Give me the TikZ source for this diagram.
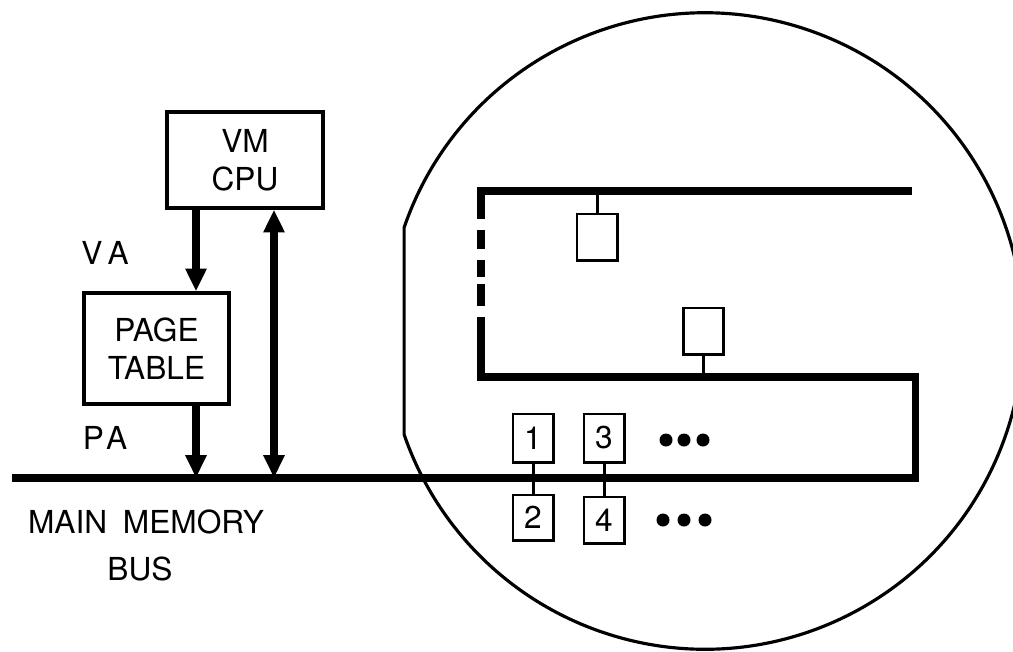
\documentclass[tikz,border=0pt]{standalone}
\usepackage{fontspec}
\setmainfont{TeX Gyre Heros}
\usetikzlibrary{arrows.meta}
\begin{document}
\begin{tikzpicture}[x=0.01cm,y=-0.01cm]
  \tikzset{bx/.style={draw,rectangle,line width=0.9pt,align=center,inner sep=0pt,font=\fontsize{9}{10.8}\selectfont},
    sm/.style={draw,rectangle,line width=0.85pt,minimum width=0.4cm,minimum height=0.46cm,inner sep=0pt,font=\fontsize{9}{11}\selectfont},
    lbl/.style={inner sep=0pt,font=\fontsize{9}{11}\selectfont},
    bus/.style={line width=2pt},
    arr/.style={line width=2pt,-{Triangle[width=5.7pt,length=6.5pt]}},
    dbl/.style={line width=2pt,{Triangle[width=5.7pt,length=6.5pt]}-{Triangle[width=5.7pt,length=6.5pt]}}}
  \useasboundingbox (0,0) rectangle (1013,651);
  \clip (0,0) rectangle (1013,651);
  % left part
  \node[bx,minimum width=1.56cm,minimum height=0.96cm] (cpu) at (245,160) {VM\\CPU};
  \node[bx,minimum width=1.45cm,minimum height=1.11cm] (pt) at (156.5,348.5) {PAGE\\TABLE};
  \node[lbl] (va) at (105,252.5) {V\,A};
  \node[lbl] (pa) at (105,437.5) {P\kern.6pt A};
  \node[lbl] (mm) at (146,521.5) {MAIN\enspace MEMORY};
  \node[lbl] (bl) at (140,568.5) {BUS};
  \coordinate (tap) at (196,478);
  \coordinate (tap2) at (274,478);
  \draw[arr] (cpu.south -| tap) -- (pt.north -| tap);
  \draw[arr] (pt.south -| tap) -- (tap);
  \draw[dbl] (cpu.south -| tap2) -- (tap2);
  % magnified view
  \draw[line width=0.9pt] (705,331) ++(161:3.18cm) arc[start angle=161,end angle=-161,radius=3.18cm] -- cycle;
  \coordinate (b0) at (12,478);
  \coordinate (b1c) at (915,478);
  \coordinate (m1c) at (915,377);
  \coordinate (m0) at (481,377);
  \coordinate (t0) at (481,191);
  \coordinate (t1) at (912,191);
  \draw[bus,line join=miter] (b0) -- (b1c) -- (m1c) -- (m0) -- (481,317);
  \draw[bus,line join=miter] (481,219) -- (t0) -- (t1);
  \foreach \a/\b in {230/249,260/277,284/306}
    \draw[bus] (481,\a) -- (481,\b);
  \node[sm] (u1) at (597,237) {};
  \node[sm] (u2) at (703,331) {};
  \draw[line width=0.85pt] (u1.north) -- (u1.north |- t0);
  \draw[line width=0.85pt] (u2.south) -- (u2.south |- m0);
  \node[sm,minimum height=0.48cm] (n1) at (533,438) {1};
  \node[sm,minimum height=0.48cm] (n3) at (604,438) {3};
  \node[sm,minimum height=0.45cm] (n2) at (533,517.5) {2};
  \node[sm,minimum height=0.46cm] (n4) at (604,520) {4};
  \draw[line width=0.85pt] (n1) -- (n2);
  \draw[line width=0.85pt] (n3) -- (n4);
  \foreach \x in {666,684,703} \fill (\x,440) circle[radius=0.065cm];
  \foreach \x in {663,684,705} \fill (\x,520) circle[radius=0.065cm];
\end{tikzpicture}
\end{document}
